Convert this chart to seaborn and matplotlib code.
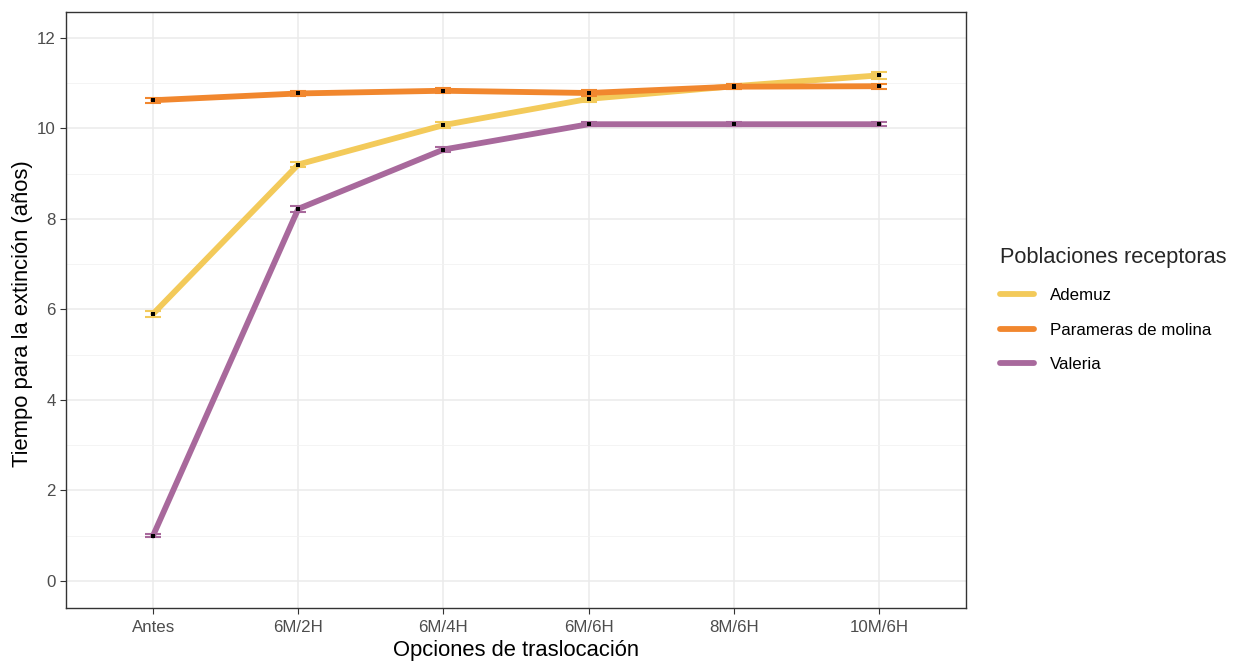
import matplotlib
matplotlib.use("Agg")
import matplotlib.pyplot as plt
import seaborn as sns
import pandas as pd
import numpy as np
from matplotlib.ticker import MultipleLocator

opciones = ["Antes", "6M/2H", "6M/4H", "6M/6H", "8M/6H", "10M/6H"]
ademuz = [5.90, 9.20, 10.07, 10.65, 10.93, 11.17]
parameras = [10.62, 10.77, 10.83, 10.78, 10.92, 10.93]
valeria = [1.00, 8.22, 9.53, 10.09, 10.09, 10.09]
err_ademuz = [0.06, 0.06, 0.06, 0.06, 0.06, 0.07]
err_parameras = [0.06, 0.06, 0.06, 0.06, 0.06, 0.06]
err_valeria = [0.03, 0.06, 0.06, 0.04, 0.04, 0.04]
poblaciones = ["Ademuz", "Parameras de molina", "Valeria"]
colores = ["#F3CA5A", "#F1872E", "#A8699C"]

rows = []
for name, vals, errs in zip(poblaciones, [ademuz, parameras, valeria],
                            [err_ademuz, err_parameras, err_valeria]):
    for i, (o, v, e) in enumerate(zip(opciones, vals, errs)):
        rows.append({"opcion": o, "x": i, "tiempo": v, "err": e, "pob": name})
df = pd.DataFrame(rows)

sns.set_theme(style="white")
plt.rcParams["font.family"] = ["Liberation Sans", "DejaVu Sans"]

fig = plt.figure(figsize=(12.38, 6.64), dpi=100)
ax = fig.add_axes([66/1238, 1 - 608/664, 900/1238, 596/664])

pal = dict(zip(poblaciones, colores))
sns.lineplot(data=df, x="x", y="tiempo", hue="pob", palette=pal, lw=4.2,
             ax=ax, legend=False, zorder=3)
for name in poblaciones:
    d = df[df.pob == name]
    ax.errorbar(d["x"], d["tiempo"], yerr=d["err"], fmt="none",
                ecolor=pal[name], elinewidth=1.5, capsize=6, capthick=1.5, zorder=4)
    ax.scatter(d["x"], d["tiempo"], s=7, color="black", marker="s", zorder=5, lw=0)

ax.set_xlim(-0.6, 5.6)
ax.set_ylim(-0.6, 12.57)
ax.set_xticks(range(len(opciones)))
ax.set_xticklabels(opciones)
ax.yaxis.set_major_locator(MultipleLocator(2))
ax.yaxis.set_minor_locator(MultipleLocator(1))
ax.grid(True, which="major", color="#EBEBEB", lw=1.1, zorder=0)
ax.grid(True, which="minor", axis="y", color="#F2F2F2", lw=0.6, zorder=0)
ax.set_axisbelow(True)
for s in ax.spines.values():
    s.set_color("#333333")
    s.set_linewidth(1.0)
ax.tick_params(axis="both", which="major", labelsize=12.2, labelcolor="#4D4D4D",
               color="#333333", length=4, width=0.8, bottom=True, left=True)
ax.tick_params(axis="x", which="major", pad=5)
ax.tick_params(axis="y", which="minor", length=0)
ax.set_xlabel("Opciones de traslocación", fontsize=15.8, color="black", labelpad=3)
ax.set_ylabel("Tiempo para la extinción (años)", fontsize=15.8, color="black")
ax.yaxis.set_label_coords(-0.0367, (608 - 314) / 596)

handles = [plt.Line2D([0], [0], color=c, lw=4.2) for c in colores]
leg = fig.legend(handles, poblaciones, title="Poblaciones receptoras",
                 loc="upper left", bbox_to_anchor=(997/1238, 1 - 244/664),
                 frameon=False, fontsize=12.2, title_fontsize=15.7,
                 handlelength=2.0, labelspacing=1.16, handletextpad=0.9,
                 borderaxespad=0, borderpad=0.2)
leg._legend_box.align = "left"
for t in leg.get_texts():
    t.set_color("black")

fig.savefig("out.png", dpi=100)
